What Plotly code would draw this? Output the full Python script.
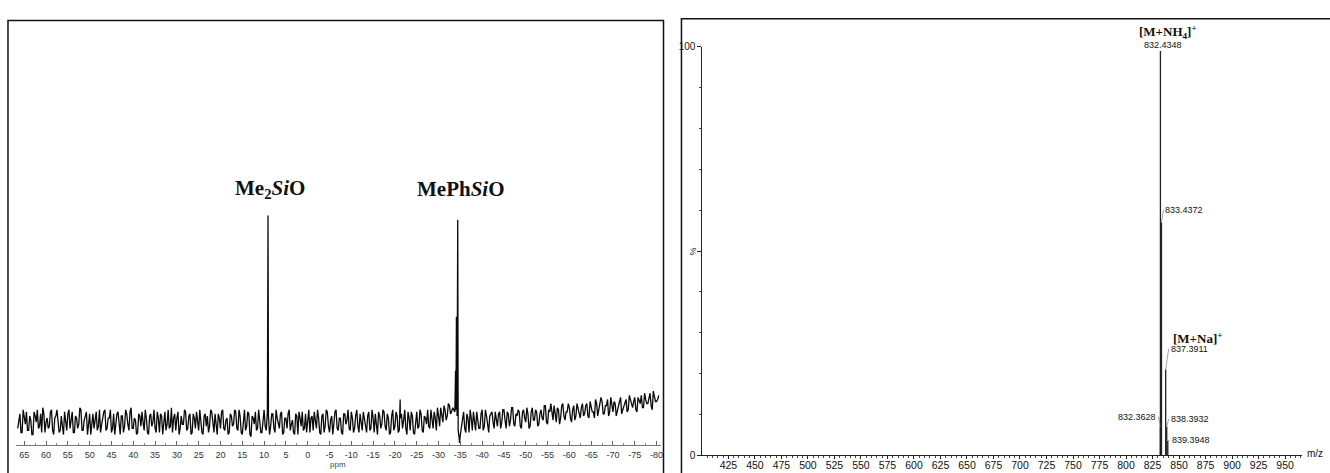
import numpy as np
import plotly.graph_objects as go

# ---------------- 29Si NMR spectrum (left panel) ----------------
nmr_start_ppm = 66.5
nmr_end_ppm = -80.5
# baseline noise, read as intensity (Me2SiO peak = 100), one value every 0.5 ppm from 66.5 to -80.5
nmr_noise = [
    -3, 4, -5, 2, 5, -4, 1, -6, 3, 6, -2, -5, 4, 0, -3, 5, -4, 2, 6, -5,
    3, -6, 1, 4, -3, 5, -5, 2, -1, 6, -4, 3, -6, 4, 1, -3, 5, -2, -5, 3,
    6, -3, 2, -5, 4, -1, 5, -6, 3, -2, 4, -4, 7, -3, 1, -5, 3, 5, -4, 2,
    -6, 4, 0, -3, 5, -5, 3, 1, -4, 6, -2, -5, 4, 2, -6, 3, -1, 5, -3, 4,
    -5, 2, 5, -4, 1, -6, 4, 3, -2, 5, -5, 0, 4, -3, 6, -4, 2, -5, 3, -1,
    5, -4, 3, -6, 6, -2, 4, -7, 2, 5, -3, 1, -5, 6, -4, 3, -2, 4, -5, 2,
    -3, 5, -5, 2, 4, -4, 1, -6, 3, 5, -2, -4, 4, 0, -5, 3, 5, -3, 2, -6,
    4, -2, 5, -5, 3, -1, 6, -4, 2, -6, 4, 1, -3, 5, -5, 3, -2, 4, -4, 2,
    -5, 5, -3, 2, 4, -6, 3, -1, 5, -4, 2, -5, 6, -2, 3, -4, 4, 1, -3, 5,
    -4, 3, -6, 5, -2, 4, -5, 2, 6, -3, 1, 5, -4, 3, 7, 0, 6, 3, 8, 5,
    6, 6, -4, -6, 3, -3, 4, -5, 2, 5, -4, 1, -3, 6, -2, 3, -5, 4, 0, 5,
    -2, 5, 0, 6, -3, 4, 1, 7, -2, 3, 5, -3, 6, 0, 4, -2, 7, 1, 5, -1,
    6, 1, 8, -1, 5, 3, 8, 0, 6, 2, 9, 1, 5, 7, 0, 8, 3, 6, 2, 9,
    4, 9, 2, 8, 5, 11, 3, 7, 10, 4, 8, 3, 12, 5, 9, 6, 10, 4, 8, 11,
    6, 11, 7, 12, 5, 10, 13, 7, 11, 9, 14, 6, 12, 10, 13,
]
# noise read between those points, one value every 0.5 ppm from 66.25 to -80.25
nmr_noise_mid_start = 66.25
nmr_noise_mid_end = -80.25
nmr_noise_mid = [
    2, -5, 6, -1, -4, 3, -6, 5, 0, -3, 4, 7, -5, 2, -2, 6, -6, 3, 1, -4,
    -2, 5, -4, 6, 2, -5, 3, -3, 7, -4, 1, 5, -2, -6, 4, 2, -4, 6, -1, 5,
    -4, 2, 6, -3, -6, 4, -2, 3, -5, 6, -1, 5, -3, 2, -6, 4, -2, 0, 6, -5,
    3, -2, 6, -5, 2, 4, -6, 5, -1, -3, 7, 2, -4, 5, -3, -1, 6, -4, 3, -6,
    4, -3, -1, 6, -5, 3, -2, -5, 6, -1, 4, -6, 2, 5, -3, 1, -6, 4, -2, 6,
    -3, 6, -5, 1, -4, 5, -6, 3, -1, -4, 6, -5, 3, -2, 5, -6, 4, -3, 6, -1,
    4, -6, 2, -3, 6, -1, -5, 4, -6, 2, 5, -3, -5, 6, 2, -4, -1, 6, -5, 3,
    -5, 6, -2, 1, -6, 5, -3, 2, -5, 4, -1, 6, -4, 2, -3, 6, -5, 1, 5, -3,
    3, -4, 6, -5, -1, 5, -3, 6, -2, 4, -6, 3, -4, 5, -5, 2, -3, 6, -6, 2,
    5, -5, 2, -3, 6, -4, 3, -1, -2, 6, -3, 2, 7, -2, 4, 8, 1, 9, 4, 7,
    5, 3, -8, -2, 5, -5, 2, 6, -4, -1, 5, -3, 4, -4, 6, -2, 3, 5, -3, 2,
    4, -3, 6, 1, 5, -2, 7, -1, 4, 6, -2, 5, 2, 7, -3, 5, 1, 6, -2, 4,
    2, 8, 0, 6, 9, 1, 4, 7, -1, 8, 3, 5, 9, 2, 6, 1, 9, 4, 7, 3,
    8, 3, 10, 5, 2, 9, 6, 12, 4, 8, 11, 5, 7, 10, 3, 9, 12, 6, 10, 5,
    13, 8, 10, 6, 12, 9, 7, 14, 9, 12, 8, 15, 10, 11,
]
nmr_peak_ppm = [9.1, -21.2, -33.9, -34.1, -34.4, -34.8]
nmr_peak_int = [100, 11, 25, 51, 98, -10]
nmr_label_text = ["<b>Me<sub>2</sub><i>Si</i>O</b>", "<b>MePh<i>Si</i>O</b>"]
nmr_label_ppm = [9.1, -34.4]
nmr_label_int = [112.7, 112.7]
nmr_ticks = list(range(65, -81, -5))

# ---------------- ESI mass spectrum (right panel) ----------------
ms_mz = [832.3628, 832.4348, 833.4372, 837.3911, 838.3932, 839.3948]
ms_int = [7, 99, 57, 21, 7, 3.5]
ms_ticks = list(range(425, 951, 25))

W, H = 1330, 473

# build NMR trace
grid = np.linspace(nmr_start_ppm, nmr_end_ppm, len(nmr_noise))
grid_mid = np.linspace(nmr_noise_mid_start, nmr_noise_mid_end, len(nmr_noise_mid))
nx = np.concatenate([grid, grid_mid, np.array(nmr_peak_ppm, dtype=float)])
ny = np.concatenate([np.array(nmr_noise, dtype=float), np.array(nmr_noise_mid, dtype=float),
                     np.array(nmr_peak_int, dtype=float)])
order = np.argsort(-nx, kind="stable")
nx, ny = nx[order], ny[order]

fig = go.Figure()
fig.add_trace(go.Scatter(x=nx, y=ny, mode="lines", line=dict(color="#0a0a0a", width=1.3),
                         xaxis="x", yaxis="y", hoverinfo="skip"))

# build MS stick trace
sx, sy = [], []
for m, v in zip(ms_mz, ms_int):
    sx += [m, m, None]
    sy += [0, v, None]
fig.add_trace(go.Scatter(x=sx, y=sy, mode="lines", line=dict(color="#222222", width=1.3),
                         xaxis="x2", yaxis="y2", hoverinfo="skip"))

ann = []
for t, p, v, xs in zip(nmr_label_text, nmr_label_ppm, nmr_label_int, [2, 3]):
    ann.append(dict(x=p, y=v, xref="x", yref="y", text=t, showarrow=False, xshift=xs,
                    font=dict(family="Liberation Serif", size=21, color="#111111"),
                    xanchor="center", yanchor="middle"))
ann.append(dict(x=0.5 * (16 + 662) / W, y=(H - 470) / H, xref="paper", yref="paper", text="ppm",
                showarrow=False, font=dict(family="Liberation Sans", size=8, color="#444444"),
                xanchor="center", yanchor="middle"))

lab_font = dict(family="Liberation Sans", size=9, color="#111111")
serif_b = dict(family="Liberation Serif", size=13, color="#111111")
# adduct labels
ann.append(dict(x=ms_mz[1], y=ms_int[1], xref="x2", yref="y2", text="<b>[M+NH<sub>4</sub>]<sup>+</sup></b>",
                showarrow=False, xshift=8, yshift=19, font=serif_b, xanchor="center", yanchor="middle"))
ann.append(dict(x=ms_mz[1], y=ms_int[1], xref="x2", yref="y2", text=f"{ms_mz[1]:.4f}",
                showarrow=False, xshift=3, yshift=6, font=lab_font, xanchor="center", yanchor="middle"))
ann.append(dict(x=ms_mz[3], y=ms_int[3], xref="x2", yref="y2", text="<b>[M+Na]<sup>+</sup></b>",
                showarrow=False, xshift=5, yshift=32, font=serif_b, xanchor="left", yanchor="middle"))
# peak labels with leader lines
leader = [(2, -13, "left", 2), (3, -21, "left", 3), (-2, -10, "right", 0), (2, -8, "left", 4), (2, -1, "left", 5)]
for ax_, ay_, xa, idx in leader:
    ann.append(dict(x=ms_mz[idx], y=ms_int[idx], xref="x2", yref="y2", text=f"{ms_mz[idx]:.4f}",
                    showarrow=True, arrowhead=0, arrowwidth=0.6, arrowcolor="#666666", standoff=0,
                    ax=ax_, ay=ay_, xanchor=xa, yanchor="middle", font=lab_font))
ann.append(dict(x=(704 - 9) / W, y=50, xref="paper", yref="y2", text="%", textangle=-90, showarrow=False,
                font=dict(family="Liberation Sans", size=9, color="#111111"), xanchor="center", yanchor="middle"))
ann.append(dict(x=1308 / W, y=(H - 459) / H, xref="paper", yref="paper", text="m/z", showarrow=False,
                font=dict(family="Liberation Sans", size=10, color="#111111"), xanchor="left", yanchor="middle"))

shapes = [
    dict(type="rect", xref="paper", yref="paper", x0=8 / W, x1=665 / W, y0=-0.05, y1=(H - 15) / H,
         line=dict(color="#111111", width=1.5), fillcolor="rgba(0,0,0,0)", layer="below"),
    dict(type="rect", xref="paper", yref="paper", x0=683 / W, x1=1.02, y0=-0.05, y1=(H - 13) / H,
         line=dict(color="#111111", width=1.5), fillcolor="rgba(0,0,0,0)", layer="below"),
]

fig.update_layout(
    width=W, height=H, margin=dict(l=0, r=0, t=0, b=0),
    paper_bgcolor="white", plot_bgcolor="white", showlegend=False,
    annotations=ann, shapes=shapes,
    xaxis=dict(domain=[16 / W, 662 / W], range=[66.9, -80.9], anchor="y",
               tickvals=nmr_ticks, ticktext=[str(t) for t in nmr_ticks],
               ticks="inside", ticklen=4, tickcolor="#666666", tickwidth=1,
               minor=dict(dtick=2.5, ticks="inside", ticklen=2, tickcolor="#888888"),
               showline=True, linecolor="#777777", linewidth=1,
               showgrid=False, zeroline=False, ticklabelstandoff=2,
               tickfont=dict(family="Liberation Sans", size=9, color="#333333")),
    yaxis=dict(domain=[(H - 450) / H, (H - 15) / H], range=[-10.85, 194.3], visible=False, anchor="x"),
    xaxis2=dict(domain=[704 / W, 1305 / W], range=[400.5, 966], anchor="y2",
                tickvals=ms_ticks, ticks="outside", ticklen=3, tickcolor="#222222",
                minor=dict(dtick=5, ticks="outside", ticklen=2, tickcolor="#444444"),
                showline=True, linecolor="#222222", linewidth=1,
                showgrid=False, zeroline=False, ticklabelstandoff=-3,
                tickfont=dict(family="Liberation Sans", size=10.5, color="#111111")),
    yaxis2=dict(domain=[(H - 461) / H, (H - 42) / H], range=[0, 100], anchor="x2",
                tickvals=[0, 50, 100], ticktext=["0", "", "100"], ticks="outside", ticklen=4,
                tickcolor="#222222", minor=dict(dtick=10, ticks="outside", ticklen=2, tickcolor="#444444"),
                showline=True, linecolor="#222222", linewidth=1, showgrid=False, zeroline=False,
                tickfont=dict(family="Liberation Sans", size=10, color="#111111")),
)

fig.write_html("out.html", config={"displayModeBar": False},
               post_script="document.body.style.margin='0';document.body.style.overflow='hidden';")
